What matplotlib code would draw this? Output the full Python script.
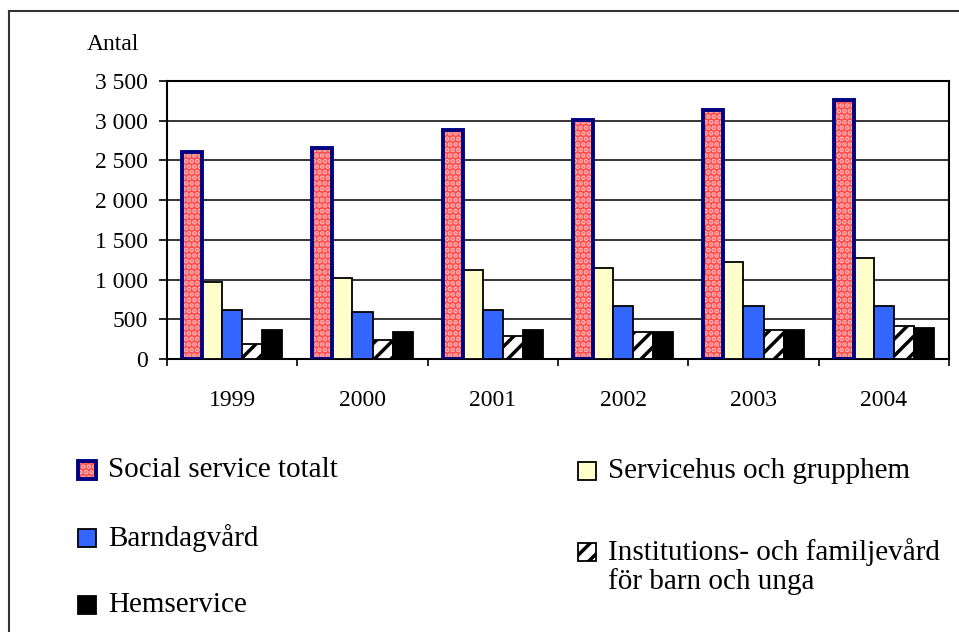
import numpy as np
import matplotlib.pyplot as plt
from matplotlib.patches import Rectangle
from matplotlib.lines import Line2D

# data
years = ['1999', '2000', '2001', '2002', '2003', '2004']
social_totalt = [2610, 2660, 2880, 3010, 3130, 3260]
servicehus = [975, 1015, 1120, 1145, 1220, 1270]
barndagvard = [615, 595, 615, 665, 665, 665]
institution = [190, 240, 290, 340, 365, 410]
hemservice = [370, 345, 370, 340, 370, 390]

labels = ['Social service totalt', 'Servicehus och grupphem', 'Barndagvård',
          'Institutions- och familjevård\nför barn och unga', 'Hemservice']

plt.rcParams['font.family'] = ['Liberation Serif', 'DejaVu Serif']
plt.rcParams['hatch.linewidth'] = 2.5

W, H = 959, 632
fig = plt.figure(figsize=(W / 100, H / 100), dpi=100)


def fx(px):
    return px / W


def fy(py):
    return 1 - py / H


ax = fig.add_axes([fx(167), fy(359), fx(949) - fx(167), fy(81) - fy(359)])

x = np.arange(len(years))
w = 0.154

red = '#ff4a4a'
dots = '#ffb8b8'

# Social service totalt: dotted red fill with thick navy border
pos = x - 2 * w
ax.bar(pos, social_totalt, w, color=red, linewidth=0, zorder=3)
ax.bar(pos, social_totalt, w, facecolor='none', edgecolor=dots,
       hatch='...', linewidth=0, zorder=3)
ax.bar(pos, social_totalt, w, facecolor='none', edgecolor='#000080',
       linewidth=2.8, zorder=4)

ax.bar(x - w, servicehus, w, color='#ffffcc', edgecolor='black', linewidth=1.3, zorder=3)
ax.bar(x, barndagvard, w, color='#3366ff', edgecolor='black', linewidth=1.3, zorder=3)
ax.bar(x + w, institution, w, facecolor='white', edgecolor='black', hatch='//',
       linewidth=1.3, zorder=3)
ax.bar(x + 2 * w, hemservice, w, color='black', edgecolor='black', linewidth=1.3, zorder=3)

ax.set_xlim(-0.5, len(years) - 0.5)
ax.set_ylim(0, 3500)
ax.set_yticks(range(0, 3501, 500))
ax.set_yticklabels([f'{v:,}'.replace(',', ' ') for v in range(0, 3501, 500)])
ax.yaxis.grid(True, color='black', linewidth=1.1, zorder=0)
ax.set_axisbelow(True)

# x ticks between the groups, labels at group centres
ax.set_xticks(np.arange(-0.5, len(years)), minor=False)
ax.set_xticklabels([''] * (len(years) + 1))
ax.set_xticks(x, minor=True)
ax.set_xticklabels(years, minor=True)
ax.tick_params(axis='x', which='major', direction='out', length=5, width=1.2)
ax.tick_params(axis='x', which='minor', length=0, pad=22, labelsize=17)
ax.tick_params(axis='y', direction='out', length=5.8, width=1.2, pad=8, labelsize=17)

for s in ax.spines.values():
    s.set_linewidth(1.5)
    s.set_color('black')

fig.text(fx(87), fy(44), 'Antal', fontsize=17, va='center', ha='left')

# outer frame (cut at right and bottom)
fig.add_artist(Line2D([fx(9), fx(9)], [fy(11), 0], color='#333333', linewidth=1.5))
fig.add_artist(Line2D([fx(9), 1], [fy(11), fy(11)], color='#333333', linewidth=1.5))

# legend drawn by hand
leg = [
    (78, 470, 0), (578, 471, 1),
    (78, 538, 2), (578, 552, 3),
    (78, 605, 4),
]
sz = 18
for mx, my, i in leg:
    r = Rectangle((fx(mx), fy(my + sz / 2)), fx(sz), sz / H, transform=fig.transFigure)
    if i == 0:
        fig.add_artist(Rectangle((fx(mx), fy(my + sz / 2)), fx(sz), sz / H,
                                 transform=fig.transFigure, facecolor=red,
                                 edgecolor=dots, hatch='...', linewidth=0))
        fig.add_artist(Rectangle((fx(mx), fy(my + sz / 2)), fx(sz), sz / H,
                                 transform=fig.transFigure, facecolor='none',
                                 edgecolor='#000080', linewidth=2.8))
    elif i == 1:
        r.set(facecolor='#ffffcc', edgecolor='black', linewidth=1.3)
        fig.add_artist(r)
    elif i == 2:
        r.set(facecolor='#3366ff', edgecolor='black', linewidth=1.3)
        fig.add_artist(r)
    elif i == 3:
        r.set(facecolor='white', edgecolor='black', hatch='//', linewidth=1.3)
        fig.add_artist(r)
    else:
        r.set(facecolor='black', edgecolor='black', linewidth=1.3)
        fig.add_artist(r)
    lines = labels[i].split('\n')
    for k, line in enumerate(lines):
        fig.text(fx(mx + 30), fy(my + k * 30), line, fontsize=21,
                 va='center', ha='left')

fig.savefig('out.png', dpi=100)
